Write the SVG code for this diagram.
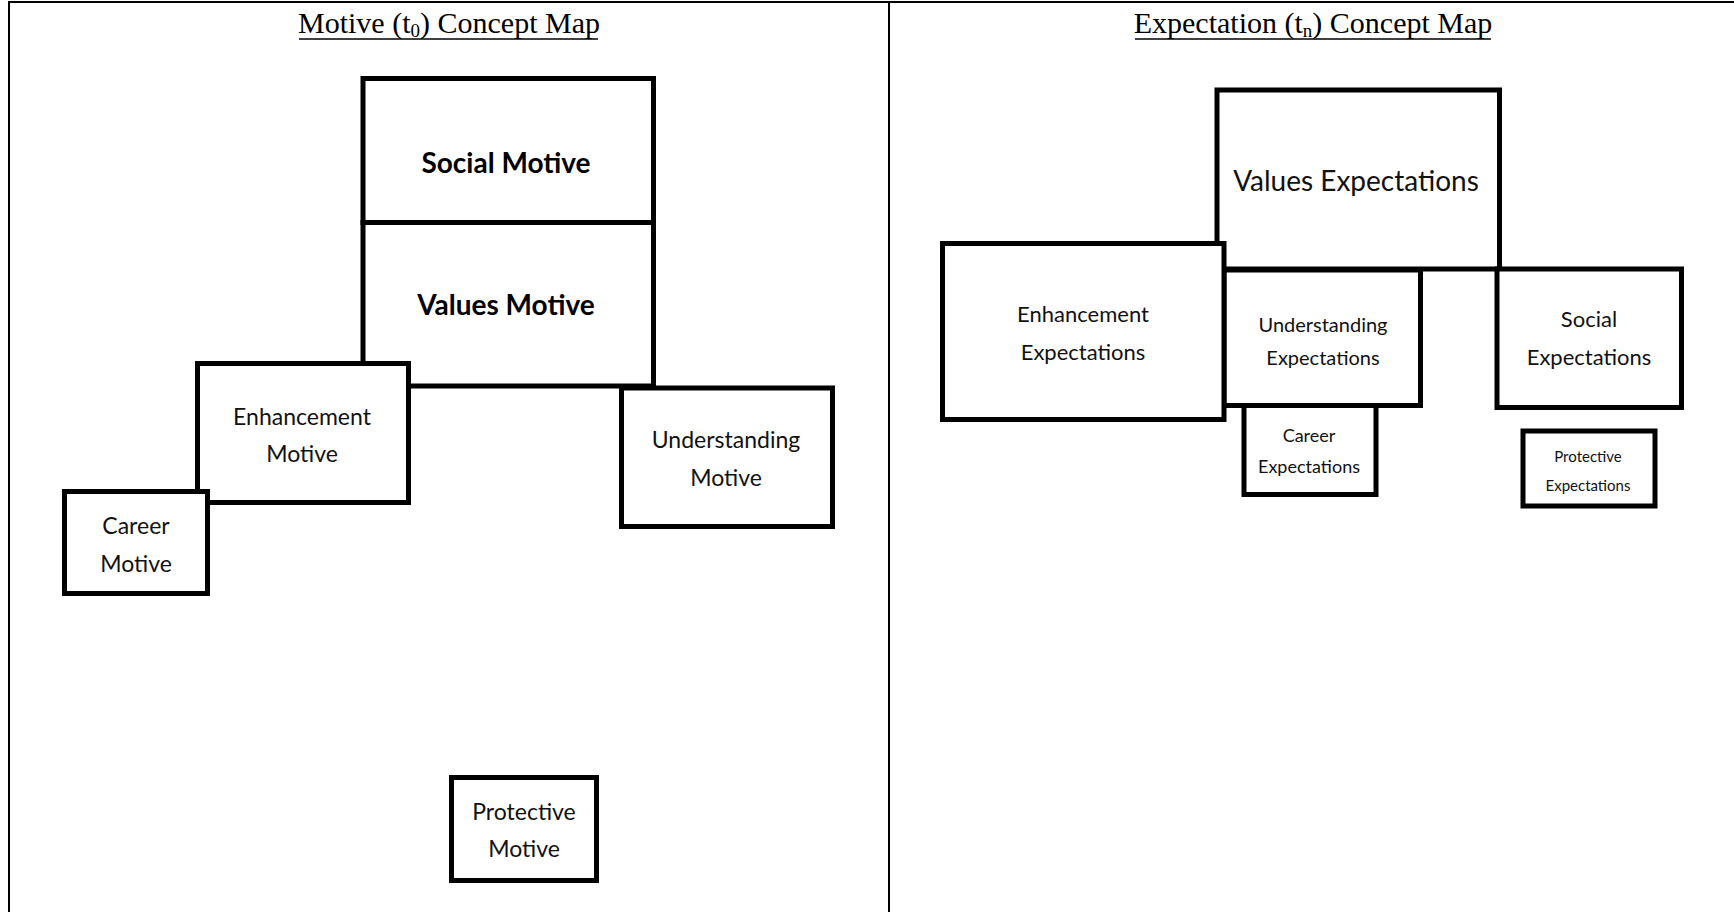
<svg xmlns="http://www.w3.org/2000/svg" width="1734" height="912" viewBox="0 0 1734 912">
<style>
.frame{stroke:#000;stroke-width:2;fill:none}
.box{fill:#fff;stroke:#000;stroke-width:5}
.title{font-family:"Liberation Serif","Times New Roman",serif;font-size:30px;fill:#000;text-anchor:middle}
.ul{stroke:#000;stroke-width:1.6}
.lbl{font-family:Lato,"Noto Sans",sans-serif;fill:#111;text-anchor:middle}
.b{font-weight:bold;fill:#000}
</style>
<rect width="1734" height="912" fill="#fff"/>
<g id="frame">
<line class="frame" x1="8" y1="2" x2="1734" y2="2"/>
<line class="frame" x1="9" y1="1" x2="9" y2="912"/>
<line class="frame" x1="889" y1="1" x2="889" y2="912"/>
</g>
<g id="titles">
<text class="title" x="449" y="33">Motive (t<tspan font-size="19" dy="4">0</tspan><tspan dy="-4">) Concept Map</tspan></text>
<line class="ul" x1="299" y1="39" x2="598" y2="39"/>
<text class="title" x="1313" y="33">Expectation (t<tspan font-size="19" dy="4">n</tspan><tspan dy="-4">) Concept Map</tspan></text>
<line class="ul" x1="1135" y1="39" x2="1491" y2="39"/>
</g>
<g id="connectors"/>
<g id="social-motive"><rect class="box" x="363" y="78.5" width="290.5" height="144"/><text class="lbl b" x="506" y="173" font-size="28">Social Motive</text></g>
<g id="values-motive"><rect class="box" x="363" y="222.5" width="290.5" height="163.5"/><text class="lbl b" x="506" y="315" font-size="28">Values Motive</text></g>
<g id="understanding-motive"><rect class="box" x="621.5" y="388" width="211" height="138.5"/><text class="lbl" x="726" y="448" font-size="23">Understanding</text><text class="lbl" x="726" y="486" font-size="23">Motive</text></g>
<g id="enhancement-motive"><rect class="box" x="197.5" y="363.5" width="211" height="139"/><text class="lbl" x="302" y="425" font-size="23">Enhancement</text><text class="lbl" x="302" y="462" font-size="23">Motive</text></g>
<g id="career-motive"><rect class="box" x="64.5" y="491.5" width="143" height="102"/><text class="lbl" x="136" y="534" font-size="23">Career</text><text class="lbl" x="136" y="572" font-size="23">Motive</text></g>
<g id="protective-motive"><rect class="box" x="451.5" y="777.5" width="145" height="103"/><text class="lbl" x="524" y="820" font-size="23">Protective</text><text class="lbl" x="524" y="857" font-size="23">Motive</text></g>
<g id="values-expectations"><rect class="box" x="1217" y="90" width="282.5" height="179"/><text class="lbl" x="1356" y="191" font-size="28">Values Expectations</text></g>
<g id="understanding-expectations"><rect class="box" x="1224" y="270" width="196.5" height="135.5"/><text class="lbl" x="1323" y="332" font-size="20">Understanding</text><text class="lbl" x="1323" y="365" font-size="20">Expectations</text></g>
<g id="social-expectations"><rect class="box" x="1497" y="269" width="184.5" height="138.5"/><text class="lbl" x="1589" y="327" font-size="22">Social</text><text class="lbl" x="1589" y="365" font-size="22">Expectations</text></g>
<g id="enhancement-expectations"><rect class="box" x="942.5" y="243.5" width="281.5" height="176"/><text class="lbl" x="1083" y="322" font-size="22">Enhancement</text><text class="lbl" x="1083" y="360" font-size="22">Expectations</text></g>
<g id="career-expectations"><rect class="box" x="1244" y="405.5" width="132" height="89"/><text class="lbl" x="1309" y="442" font-size="18">Career</text><text class="lbl" x="1309" y="473" font-size="18">Expectations</text></g>
<g id="protective-expectations"><rect class="box" x="1523" y="431" width="132" height="75"/><text class="lbl" x="1588" y="462" font-size="15" fill="#444">Protective</text><text class="lbl" x="1588" y="491" font-size="15" fill="#444">Expectations</text></g>
</svg>
